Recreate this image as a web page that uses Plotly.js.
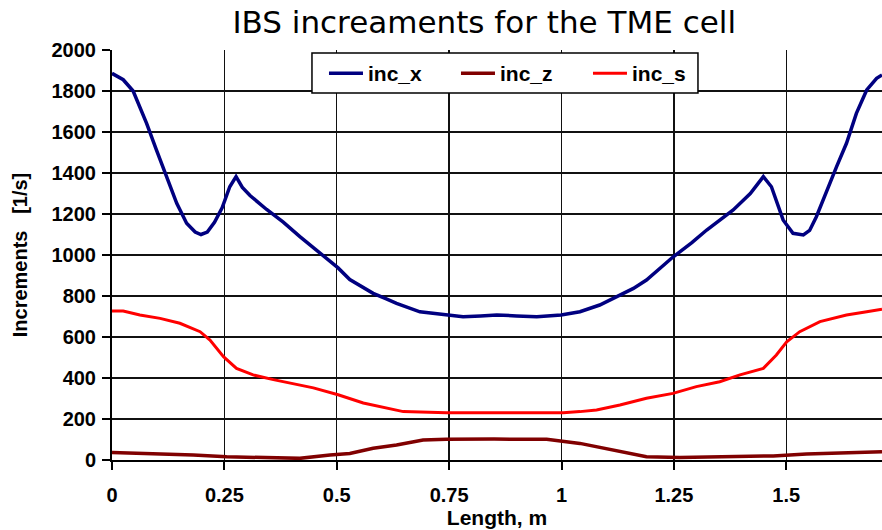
<!DOCTYPE html>
<html>
<head>
<meta charset="utf-8">
<script src="https://cdn.plot.ly/plotly-3.0.1.min.js"></script>
<style>html,body{margin:0;padding:0;background:#fff;}#chart{width:882px;height:530px;}</style>
</head>
<body>
<div id="chart"></div>
<script>
// inc_x (navy)
var incX_len = [0,0.025,0.047,0.077,0.099,0.122,0.144,0.166,0.185,0.198,0.212,0.228,0.245,0.262,0.276,0.290,0.307,0.344,0.381,0.418,0.46,0.503,0.529,0.564,0.581,0.609,0.633,0.685,0.744,0.781,0.82,0.856,0.9,0.945,0.999,1.041,1.085,1.115,1.160,1.189,1.22,1.248,1.29,1.323,1.382,1.420,1.449,1.467,1.493,1.515,1.538,1.552,1.567,1.590,1.612,1.634,1.656,1.679,1.701,1.713];
var incX_val = [1886,1855,1800,1642,1512,1382,1252,1155,1112,1100,1112,1160,1230,1333,1382,1330,1290,1222,1160,1090,1015,937,880,837,813,787,764,723,707,699,703,707,703,699,707,723,756,789,837,878,935,990,1060,1122,1220,1300,1382,1333,1171,1106,1098,1120,1187,1317,1431,1545,1691,1805,1862,1878];

// inc_z (dark red)
var incZ_len = [0,0.070,0.181,0.255,0.374,0.418,0.485,0.529,0.581,0.633,0.692,0.744,0.85,0.967,1.041,1.078,1.152,1.189,1.263,1.471,1.545,1.656,1.713];
var incZ_val = [36,32,24,16,11,8,24,32,57,73,98,101,102,101,81,65,36,16,12,20,29,36,40];

// inc_s (red)
var incS_len = [0,0.025,0.062,0.107,0.151,0.196,0.218,0.248,0.277,0.314,0.359,0.40,0.448,0.503,0.559,0.648,0.744,0.85,1.004,1.041,1.078,1.130,1.189,1.248,1.300,1.352,1.397,1.449,1.478,1.501,1.530,1.575,1.634,1.679,1.713];
var incS_val = [727,727,707,691,667,626,585,504,447,415,392,375,352,318,278,236,231,231,231,236,244,268,301,325,358,382,415,447,512,577,626,675,707,723,735];

var xTickVals = [0,0.25,0.5,0.75,1,1.25,1.5];
var xTickText = ['0','0.25','0.5','0.75','1','1.25','1.5'];

var traces = [
  {x: incX_len, y: incX_val, name: 'inc_x', type: 'scatter', mode: 'lines', line: {color: '#000080', width: 3.5}},
  {x: incZ_len, y: incZ_val, name: 'inc_z', type: 'scatter', mode: 'lines', line: {color: '#800000', width: 3.5}},
  {x: incS_len, y: incS_val, name: 'inc_s', type: 'scatter', mode: 'lines', line: {color: '#FF0000', width: 3}}
];

var tickFont = {family: 'Liberation Sans, Arial, sans-serif', size: 20, color: '#000', weight: 'bold'};
var axTitleFont = {family: 'Liberation Sans, Arial, sans-serif', size: 21, color: '#000', weight: 'bold'};

var layout = {
  width: 882, height: 530,
  margin: {l: 112, r: 0, t: 50, b: 70, pad: 0},
  paper_bgcolor: '#fff', plot_bgcolor: '#fff',
  title: {text: 'IBS increaments for the TME cell', font: {family: 'DejaVu Sans, sans-serif', size: 31, color: '#000'},
          xref: 'container', x: 0.549, xanchor: 'center', yref: 'container', y: 0.958, yanchor: 'middle'},
  xaxis: {range: [0, 1.713], tickmode: 'array', tickvals: xTickVals, ticktext: xTickText,
          showgrid: true, gridcolor: '#111', gridwidth: 1.3, zeroline: false,
          showline: true, linecolor: '#000', linewidth: 2, ticks: 'outside', ticklen: 8, tickwidth: 2, tickcolor: '#000',
          tickfont: tickFont, ticklabelstandoff: 8,
          title: {text: 'Length, m', font: axTitleFont, standoff: 3}},
  yaxis: {range: [0, 2000], dtick: 200, tick0: 0,
          showgrid: true, gridcolor: '#111', gridwidth: 1.3, zeroline: false,
          showline: true, linecolor: '#000', linewidth: 2, ticks: 'outside', ticklen: 8, tickwidth: 2, tickcolor: '#000',
          tickfont: tickFont, ticklabelstandoff: 2,
          title: {text: 'Increments\u00a0\u00a0\u00a0[1/s]', font: {family: 'Liberation Sans, Arial, sans-serif', size: 20, color: '#000', weight: 'bold'}, standoff: 19}},
  showlegend: true,
  legend: {orientation: 'h', x: 0.2753, xanchor: 'left', y: 0.9927, yanchor: 'top',
           bgcolor: 'rgba(0,0,0,0)', borderwidth: 0,
           font: {family: 'Liberation Sans, Arial, sans-serif', size: 21, color: '#000', weight: 'bold'},
           itemwidth: 34, entrywidth: 83, entrywidthmode: 'pixels', traceorder: 'normal'},
  shapes: [
    {type: 'rect', xref: 'paper', yref: 'paper', x0: 0.2597, x1: 0.761, y0: 0.895, y1: 0.9927,
     fillcolor: '#fff', line: {color: '#000', width: 1.5}, layer: 'above'}
  ]
};

Plotly.newPlot('chart', traces, layout, {displayModeBar: false, staticPlot: true});
</script>
</body>
</html>
